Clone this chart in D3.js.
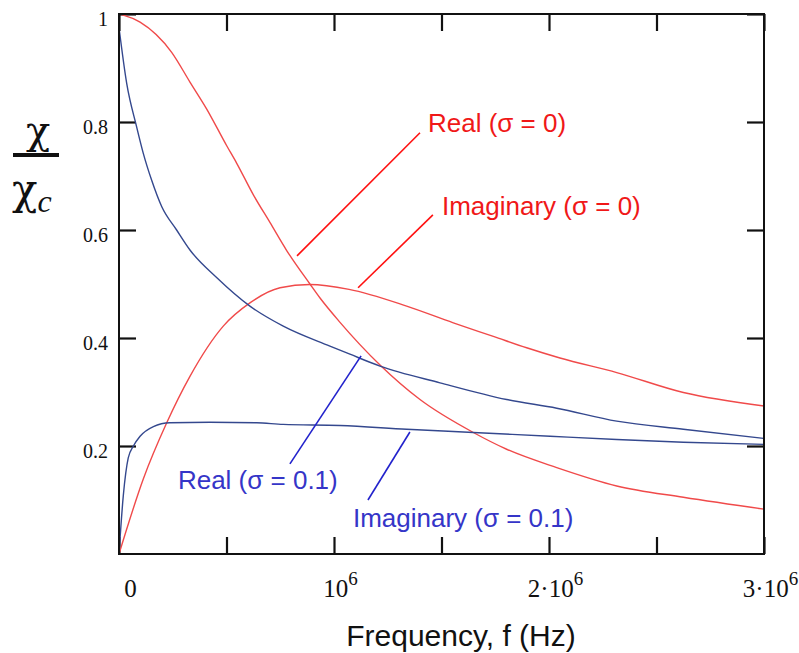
<!DOCTYPE html>
<html>
<head>
<meta charset="utf-8">
<script src="https://cdn.jsdelivr.net/npm/d3@7"></script>
<style>
  body { margin: 0; background: #fff; }
  svg { display: block; }
</style>
</head>
<body>
<div id="chart"></div>
<script>
/* global d3 */

const MHZ = 1e6;

const FREQ_TICKS = [0, 0.5, 1, 1.5, 2, 2.5, 3];
const FREQ_LABELS = [0, 1, 2, 3];
const CHI_TICKS = [0.2, 0.4, 0.6, 0.8, 1];

const realSigma0 = [
  [0, 1.0], [0.02, 0.998], [0.098, 0.985], [0.245, 0.929], [0.33, 0.874],
  [0.408, 0.824], [0.501, 0.756], [0.547, 0.724], [0.625, 0.665], [0.702, 0.614],
  [0.78, 0.562], [0.888, 0.5], [0.935, 0.474], [1.028, 0.429], [1.214, 0.35],
  [1.4, 0.286], [1.648, 0.225], [1.803, 0.194], [2.036, 0.16], [2.315, 0.126],
  [2.625, 0.105], [3.0, 0.083]
];

const imagSigma0 = [
  [0, 0], [0.113, 0.139], [0.222, 0.243], [0.33, 0.329], [0.485, 0.422],
  [0.609, 0.465], [0.749, 0.493], [0.888, 0.499], [1.07, 0.49], [1.338, 0.459],
  [1.555, 0.428], [1.741, 0.403], [1.896, 0.382], [2.051, 0.363], [2.315, 0.336],
  [2.625, 0.299], [3.0, 0.274]
];

const realSigma01 = [
  [0, 0.975], [0.036, 0.871], [0.082, 0.791], [0.113, 0.742], [0.152, 0.692],
  [0.199, 0.643], [0.268, 0.6], [0.33, 0.563], [0.454, 0.512], [0.609, 0.459],
  [0.764, 0.422], [0.981, 0.385], [1.074, 0.37], [1.214, 0.348], [1.493, 0.317],
  [1.803, 0.286], [2.036, 0.27], [2.315, 0.246], [2.625, 0.231], [3.0, 0.214]
];

const imagSigma01 = [
  [0, 0], [0.02, 0.108], [0.043, 0.178], [0.067, 0.2], [0.098, 0.218],
  [0.16, 0.236], [0.237, 0.243], [0.423, 0.244], [0.64, 0.243], [0.764, 0.24],
  [1.028, 0.238], [1.338, 0.231], [1.648, 0.225], [2.005, 0.218], [2.315, 0.212],
  [2.625, 0.207], [3.0, 0.203]
];

const SERIES = [
  { data: realSigma0, colour: '#f04a4a' },
  { data: imagSigma0, colour: '#f04a4a' },
  { data: realSigma01, colour: '#34488e' },
  { data: imagSigma01, colour: '#34488e' }
];

// label text, text anchor and leader line, all in data units (MHz, chi/chi_c)
const ANNOTATIONS = [
  { text: 'Real (\u03c3 = 0)', colour: '#f01818', line: '#ff1010', at: [1.437, 0.781], from: [0.828, 0.552], to: [1.4, 0.78] },
  { text: 'Imaginary (\u03c3 = 0)', colour: '#f01818', line: '#ff1010', at: [1.502, 0.628], from: [1.112, 0.493], to: [1.46, 0.628] },
  { text: 'Real (\u03c3 = 0.1)', colour: '#3535c8', line: '#2222cc', at: [0.274, 0.12], from: [0.795, 0.167], to: [1.126, 0.367] },
  { text: 'Imaginary (\u03c3 = 0.1)', colour: '#3535c8', line: '#2222cc', at: [1.088, 0.05], from: [1.158, 0.1], to: [1.353, 0.226] }
];

const width = 799;
const height = 653;
const plot = { left: 119, right: 764, top: 14, bottom: 554 };

const x = d3.scaleLinear().domain([0, 3 * MHZ]).range([plot.left, plot.right]);
const y = d3.scaleLinear().domain([0, 1]).range([plot.bottom, plot.top]);

const svg = d3.select('#chart').append('svg').attr('width', width).attr('height', height);

const serif = '"Liberation Serif", "Times New Roman", serif';
const sans = '"Liberation Sans", Arial, sans-serif';

// inward tick marks on all four sides
const tickLen = 17;
const inward = (g) => g.call((s) => s.select('.domain').remove())
  .selectAll('line').attr('stroke', '#111').attr('stroke-width', 2.2);

svg.append('g').attr('transform', `translate(0,${plot.bottom})`)
  .call(d3.axisBottom(x).tickValues(FREQ_TICKS.map((d) => d * MHZ)).tickSize(-tickLen).tickFormat(''))
  .call(inward);
svg.append('g').attr('transform', `translate(0,${plot.top})`)
  .call(d3.axisTop(x).tickValues(FREQ_TICKS.map((d) => d * MHZ)).tickSize(-tickLen).tickFormat(''))
  .call(inward);
svg.append('g').attr('transform', `translate(${plot.right},0)`)
  .call(d3.axisRight(y).tickValues(CHI_TICKS).tickSize(-tickLen).tickFormat(''))
  .call(inward);

const left = svg.append('g').attr('transform', `translate(${plot.left},0)`)
  .call(d3.axisLeft(y).tickValues(CHI_TICKS).tickSize(-tickLen).tickPadding(11).tickFormat(d3.format('')))
  .call(inward);
left.selectAll('text')
  .attr('font-family', serif).attr('font-size', 20).attr('fill', '#111').attr('dy', '0.58em');

// frequency labels with superscript exponent
const bottom = svg.append('g').attr('transform', `translate(0,${plot.bottom})`)
  .call(d3.axisBottom(x).tickValues(FREQ_LABELS.map((d) => d * MHZ)).tickSize(0));
bottom.select('.domain').remove();
bottom.selectAll('text')
  .attr('font-family', serif).attr('font-size', 25).attr('fill', '#111')
  .attr('y', 43).attr('dy', 0).attr('dx', 6)
  .each(function (d) {
    const n = d / MHZ;
    const t = d3.select(this).text('');
    if (n === 0) {
      t.attr('dx', 11).text('0');
      return;
    }
    t.append('tspan').text(n === 1 ? '10' : `${n}\u00b710`);
    t.append('tspan').attr('dy', -12).attr('font-size', 19).text('6');
  });

// curves
const line = d3.line()
  .x((d) => x(d[0] * MHZ))
  .y((d) => y(d[1]))
  .curve(d3.curveMonotoneX);

SERIES.forEach((s) => {
  svg.append('path')
    .datum(s.data)
    .attr('fill', 'none')
    .attr('stroke', s.colour)
    .attr('stroke-width', 1.4)
    .attr('stroke-linejoin', 'round')
    .attr('d', line);
});

// frame
svg.append('rect')
  .attr('x', plot.left).attr('y', plot.top)
  .attr('width', plot.right - plot.left).attr('height', plot.bottom - plot.top)
  .attr('fill', 'none').attr('stroke', '#111').attr('stroke-width', 2);

// annotations
ANNOTATIONS.forEach((a) => {
  svg.append('line')
    .attr('x1', x(a.from[0] * MHZ)).attr('y1', y(a.from[1]))
    .attr('x2', x(a.to[0] * MHZ)).attr('y2', y(a.to[1]))
    .attr('stroke', a.line).attr('stroke-width', 1.6);
  svg.append('text')
    .attr('x', x(a.at[0] * MHZ)).attr('y', y(a.at[1]))
    .attr('font-family', sans).attr('font-size', 26).attr('fill', a.colour)
    .text(a.text);
});

// axis titles
svg.append('text')
  .attr('x', 461).attr('y', 646)
  .attr('text-anchor', 'middle')
  .attr('font-family', sans).attr('font-size', 30).attr('fill', '#111')
  .text('Frequency, f (Hz)');

const greek = '"DejaVu Serif", "Liberation Serif", serif';
const ylab = svg.append('g').attr('fill', '#111');
ylab.append('text').attr('x', 38).attr('y', 144).attr('text-anchor', 'middle')
  .attr('font-family', greek).attr('font-size', 40).text('\u03c7');
ylab.append('rect').attr('x', 13).attr('y', 153).attr('width', 46).attr('height', 4);
const chiC = ylab.append('text').attr('x', 12).attr('y', 204).attr('font-family', greek).attr('font-size', 42);
chiC.append('tspan').text('\u03c7');
chiC.append('tspan').attr('dy', 8).attr('font-family', serif).attr('font-size', 32)
  .attr('font-style', 'italic').text('c');
</script>
</body>
</html>
